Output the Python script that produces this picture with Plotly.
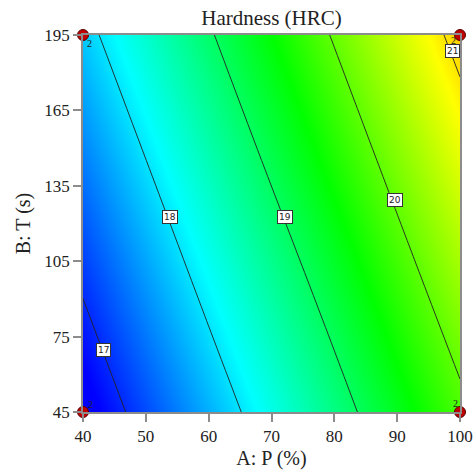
import plotly.graph_objects as go

# Design factors (grid where the response was read)
p_vals = [40, 60, 80, 100]          # A: P (%)
t_vals = [45, 95, 145, 195]         # B: T (s)
# Hardness (HRC) read at grid points; rows follow t_vals, columns follow p_vals
hardness = [
    [16.63, 17.72, 18.80, 19.89],
    [17.04, 18.13, 19.21, 20.31],
    [17.45, 18.54, 19.63, 20.72],
    [17.86, 18.95, 20.04, 21.14],
]
contour_levels = [17, 18, 19, 20, 21]
# label anchors for contour values (P, T)
label_p = [43.3, 53.8, 72.1, 89.7, 98.8]
label_t = [69.7, 122.6, 122.6, 129.4, 188.8]

# design points (corners), with replicate count
design_p = [40, 40, 100, 100]
design_t = [45, 195, 45, 195]
design_n = ["2", "2", "2", "2"]
# small offsets (px) of the replicate count from each point
design_dx = [7, 6, -5, -7]
design_dy = [8, -8, 9, -5]

x_ticks = [40, 50, 60, 70, 80, 90, 100]
y_ticks = [45, 75, 105, 135, 165, 195]

colorscale = [
    [0.0, "#0000ff"],
    [0.25, "#00ffff"],
    [0.5, "#00ff00"],
    [0.75, "#ffff00"],
    [1.0, "#ff0000"],
]

fig = go.Figure()
fig.add_trace(go.Contour(
    x=p_vals, y=t_vals, z=hardness,
    colorscale=colorscale, zmin=16.78, zmax=22.22,
    showscale=False,
    contours=dict(coloring="heatmap", start=contour_levels[0],
                  end=contour_levels[-1], size=1, showlabels=False),
    line=dict(color="#222222", width=0.9),
    hoverinfo="skip",
))

fig.add_trace(go.Scatter(
    x=design_p, y=design_t, mode="markers",
    marker=dict(size=11, color="#c00000", line=dict(color="#5a0000", width=1)),
    cliponaxis=False, showlegend=False, hoverinfo="skip",
))

for dp, dt, dn, dx, dy in zip(design_p, design_t, design_n, design_dx, design_dy):
    fig.add_annotation(
        x=dp, y=dt, text=dn, showarrow=False, xshift=dx, yshift=dy,
        font=dict(family="Liberation Serif", size=10, color="#222222"),
    )

for lv, lp, lt in zip(contour_levels, label_p, label_t):
    fig.add_annotation(
        x=lp, y=lt, text=str(lv), showarrow=False,
        font=dict(family="DejaVu Sans", size=9, color="#222222"),
        bgcolor="white", bordercolor="#333333", borderwidth=1, borderpad=1,
    )

axis_common = dict(
    showgrid=False, zeroline=False, showline=True, linecolor="#8c8c8c",
    linewidth=1.5, mirror=True, ticks="outside", ticklen=8, tickcolor="#8c8c8c",
    tickwidth=1.5, automargin=False,
    tickfont=dict(family="Liberation Serif", size=17, color="#222222"),
)

fig.update_layout(
    width=473, height=474,
    margin=dict(l=83, r=13, t=35, b=62),
    paper_bgcolor="white", plot_bgcolor="white",
    title=dict(text="Hardness (HRC)", x=0.574, xanchor="center", y=0.962, yanchor="middle",
               font=dict(family="Liberation Serif", size=21, color="#222222")),
    xaxis=dict(range=[40, 100], tickvals=x_ticks, ticktext=[str(v) for v in x_ticks],
               title=dict(text="A: P (%)", standoff=6,
                          font=dict(family="Liberation Serif", size=20, color="#222222")),
               **axis_common),
    yaxis=dict(range=[45, 195], tickvals=y_ticks, ticktext=[str(v) for v in y_ticks],
               title=dict(text="B: T (s)", standoff=8,
                          font=dict(family="Liberation Serif", size=20, color="#222222")),
               **axis_common),
    showlegend=False,
)

fig.write_html("out.html", config={"displayModeBar": False},
               post_script="document.body.style.margin='0';document.body.style.overflow='hidden';")
